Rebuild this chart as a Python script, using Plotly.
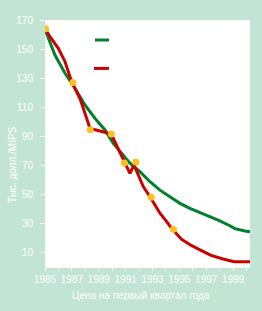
import plotly.graph_objects as go

# Actual price series (red)
red_years = [1985.0, 1985.37, 1985.99, 1986.49, 1986.98, 1987.6, 1988.1, 1988.35, 1989.09,
             1989.94, 1990.2, 1991.32, 1991.62, 1991.94, 1992.31, 1992.81, 1993.55, 1994.05,
             1994.42, 1995.16, 1995.85, 1996.6, 1997.35, 1998.25, 1999.07, 2000.25]
red_values = [164, 158.5, 150.5, 141.3, 127.5, 116, 102.3, 95.4, 93.6,
              91.5, 86.2, 64.5, 70.2, 63.3, 55.3, 48.4, 37, 31.2,
              26.6, 19, 15, 11.5, 8, 5.5, 3.6, 3.6]

# Highlighted points (yellow)
pt_years = [1985.05, 1987.07, 1988.37, 1989.94, 1990.9, 1991.76, 1992.9, 1994.55]
pt_values = [164, 127, 94.5, 91.5, 71.6, 72.3, 48, 26]

# Trend (green)
green_years = [1985.0, 1985.74, 1986.49, 1987.23, 1987.97, 1988.72, 1989.46, 1990.08,
               1991.32, 1992.06, 1992.81, 1993.55, 1994.29, 1995.04, 1995.78, 1996.52,
               1997.27, 1998.01, 1998.75, 1999.13, 1999.87, 2000.25]
green_values = [163.5, 145.9, 133.3, 123, 111.5, 102.3, 94.3, 85.1,
                71.4, 65.6, 58.7, 52.9, 48.3, 43.8, 40.4, 37.6,
                34.6, 31.7, 28.4, 26.4, 24.8, 24.2]

x_tickvals = list(range(1985, 2001))
x_ticktext = [str(y) if (y - 1985) % 2 == 0 and y < 2000 else "" for y in x_tickvals]
y_tickvals = [10, 30, 50, 70, 90, 110, 130, 150, 170]

BG = "#c2e4d4"
FONT = "Liberation Sans, Arial, sans-serif"

fig = go.Figure()
fig.add_trace(go.Scatter(x=green_years, y=green_values, mode="lines",
                         line=dict(color="#00802b", width=3),
                         showlegend=False, hoverinfo="skip"))
fig.add_trace(go.Scatter(x=red_years, y=red_values, mode="lines",
                         line=dict(color="#cc0000", width=3),
                         showlegend=False, hoverinfo="skip"))
fig.add_trace(go.Scatter(x=pt_years, y=pt_values, mode="markers",
                         marker=dict(color="#ffc020", size=7),
                         showlegend=False, hoverinfo="skip"))

# legend swatches
fig.add_shape(type="line", xref="paper", yref="paper", x0=0.244, x1=0.312, y0=0.919, y1=0.919,
              line=dict(color="#00802b", width=3))
fig.add_shape(type="line", xref="paper", yref="paper", x0=0.239, x1=0.312, y0=0.804, y1=0.804,
              line=dict(color="#cc0000", width=3))

fig.add_annotation(text="Тыс. долл./MIPS", xref="paper", yref="paper", x=-0.156, y=0.413,
                   xanchor="center", yanchor="middle",
                   textangle=-90, showarrow=False, font=dict(color="white", size=10, family=FONT))
fig.add_annotation(text="Цена на первый квартал года", xref="paper", yref="paper", x=0.468, y=-0.117,
                   xanchor="center", yanchor="middle",
                   showarrow=False, font=dict(color="white", size=10, family=FONT))

fig.update_layout(
    width=262, height=311,
    margin=dict(l=45, r=12, t=20, b=44),
    paper_bgcolor=BG, plot_bgcolor="white",
    font=dict(family=FONT, size=10, color="white"),
    xaxis=dict(range=[1985, 2000.25], tickvals=x_tickvals, ticktext=x_ticktext,
               tickangle=0, ticks="outside", ticklen=3, tickcolor="white", showgrid=False,
               showline=True, linecolor="white", zeroline=False,
               tickfont=dict(color="white", size=10, family=FONT)),
    yaxis=dict(range=[0, 170], tickvals=y_tickvals, ticks="outside", ticklen=4,
               tickcolor="white", showgrid=False, showline=False, zeroline=False,
               ticklabelstandoff=5,
               tickfont=dict(color="white", size=10, family=FONT)),
)

fig.write_html("out.html")
